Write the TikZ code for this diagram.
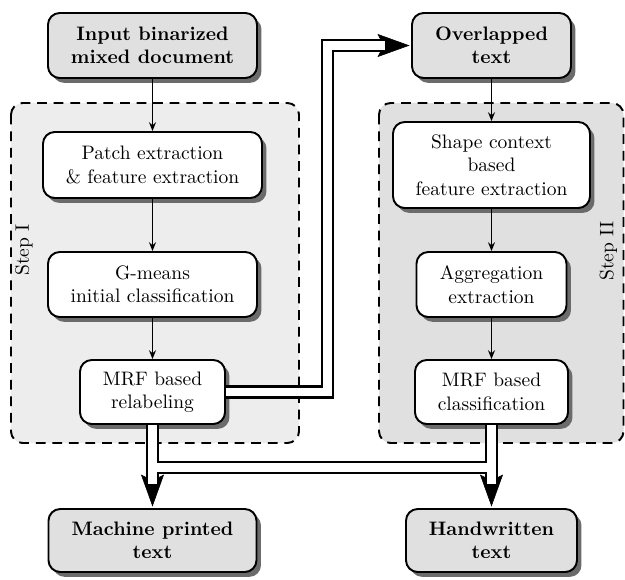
\documentclass[tikz,border=0pt]{standalone}
\usetikzlibrary{arrows.meta,shadows,calc}
\newcommand{\pxu}{0.513pt}
\begin{document}
\begin{tikzpicture}[x=0.513pt,y=-0.513pt,
  box/.style={draw, line width=1pt, rounded corners=6pt, fill=white, align=center, inner sep=0pt,
    drop shadow={shadow xshift=2.3pt, shadow yshift=-2.5pt, fill=black!58, opacity=1}},
  io/.style={box, fill=black!12, font=\bfseries},
  stepbg/.style={draw, dash pattern=on 5pt off 3.5pt, line width=1pt, rounded corners=6pt},
  flow/.style={line width=0.75pt, -{Stealth[length=4.5pt,width=3.6pt,inset=1.5pt]}},
  dblout/.style={line width=6.8pt, draw=black},
  dblin/.style={line width=4.4pt, draw=white},
  bigtip/.style={line width=0.3pt, -{Stealth[length=16.4pt,width=11.8pt,inset=3pt]}},
]
\useasboundingbox (0,0) rectangle (625,580);
% step containers
\draw[stepbg, fill=black!7] (11,103) rectangle (299,443);
\draw[stepbg, fill=black!12] (379,103) rectangle (623.5,443);
\node[rotate=90] (s1) at (24,250) {Step I};
\node[rotate=90] (s2) at (608.5,251) {Step II};
% nodes
\node[io, minimum width=209*\pxu, minimum height=65*\pxu] (inp) at (152.5,45.5) {Input binarized\\mixed document};
\node[box, minimum width=219*\pxu, minimum height=66*\pxu] (patch) at (152.5,165) {Patch extraction\\\& feature extraction};
\node[box, minimum width=209*\pxu, minimum height=65*\pxu] (gm) at (152.5,284.5) {G-means\\initial classification};
\node[box, minimum width=145*\pxu, minimum height=64*\pxu] (rel) at (152.5,392) {MRF based\\relabeling};
\node[io, minimum width=208*\pxu, minimum height=63*\pxu] (mach) at (152.5,540.5) {Machine printed\\text};
\node[io, minimum width=159*\pxu, minimum height=65*\pxu] (over) at (491.5,45.5) {Overlapped\\text};
\node[box, minimum width=197*\pxu, minimum height=86*\pxu] (shape) at (491.5,165) {Shape context\\based\\feature extraction};
\node[box, minimum width=150*\pxu, minimum height=65*\pxu] (agg) at (491.5,284.5) {Aggregation\\extraction};
\node[box, minimum width=153*\pxu, minimum height=64*\pxu] (cls) at (491.5,392) {MRF based\\classification};
\node[io, minimum width=171*\pxu, minimum height=63*\pxu] (hand) at (491.5,540.5) {Handwritten\\text};
% thin connectors
\draw[flow] (inp) -- (patch);
\draw[flow] (patch) -- (gm);
\draw[flow] (gm) -- (rel);
\draw[flow] (over) -- (shape);
\draw[flow] (shape) -- (agg);
\draw[flow] (agg) -- (cls);
% double connectors
\coordinate (hy) at (0,467.5);
\coordinate (jx) at (327.5,0);
\coordinate (mb) at ($(mach.north)+(0,-24)$);
\coordinate (hb) at ($(hand.north)+(0,-24)$);
\coordinate (ob) at ($(over.west)+(-26,0)$);
\coordinate (mt) at ($(mach.north)+(0,-34)$);
\coordinate (ht) at ($(hand.north)+(0,-34)$);
\coordinate (ot) at ($(over.west)+(-34,0)$);
\coordinate (mtip) at ($(mach.north)+(0,-1.5)$);
\coordinate (htip) at ($(hand.north)+(0,-1.5)$);
\coordinate (otip) at ($(over.west)+(-1.5,0)$);
% black outlines
\draw[dblout] (rel.south) -- (mb);
\draw[dblout] (rel.south) -- (rel.south |- hy) -| (hb);
\draw[dblout] (cls.south) -- (hb);
\draw[dblout] (cls.south) -- (cls.south |- hy) -| (mb);
\draw[dblout] (rel.east) -| (jx |- over.west) -- (ob);
% arrow heads
\draw[bigtip] (mt) -- (mtip);
\draw[bigtip] (ht) -- (htip);
\draw[bigtip] (ot) -- (otip);
% white interiors
\draw[dblin] (rel.south) -- (mb);
\draw[dblin] (rel.south) -- (rel.south |- hy) -| (hb);
\draw[dblin] (cls.south) -- (hb);
\draw[dblin] (cls.south) -- (cls.south |- hy) -| (mb);
\draw[dblin] (rel.east) -| (jx |- over.west) -- (ob);
\end{tikzpicture}
\end{document}
